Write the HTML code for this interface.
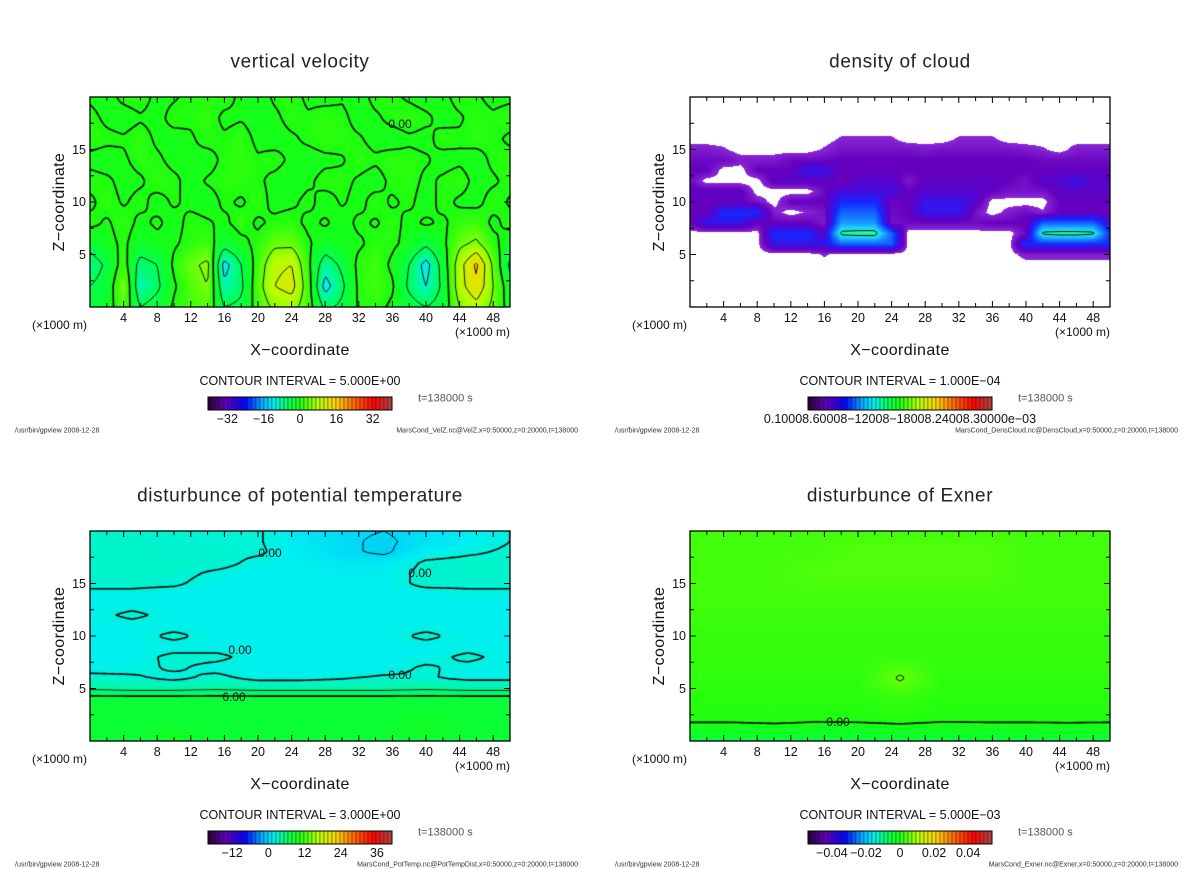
<!DOCTYPE html>
<html><head><meta charset="utf-8">
<style>
body{margin:0;background:#fff;width:1200px;height:868px;position:relative;overflow:hidden;font-family:"Liberation Sans",sans-serif;color:#111}
.t{position:absolute;white-space:nowrap;line-height:1}
.title{font-size:19px;letter-spacing:0.6px;transform:translate(-50%,-50%);color:#222}
.tick{font-size:12.5px;transform:translate(-50%,-50%)}
.ytick{font-size:12.5px;transform:translate(-100%,-50%)}
.xl{font-size:16px;letter-spacing:0.4px;transform:translate(-50%,-50%)}
.zl{font-size:16px;letter-spacing:0.4px;transform:translate(-50%,-50%) rotate(-90deg)}
.unit{font-size:12px;transform:translate(0,-50%)}
.ci{font-size:12.5px;transform:translate(-50%,-50%)}
.tt{font-size:11px;color:#555;transform:translate(0,-50%)}
.foot{font-size:7px;color:#333;transform:translate(0,-50%)}
.footr{font-size:7px;color:#333;transform:translate(-100%,-50%)}
.cl{font-size:12px;transform:translate(-50%,-50%)}
canvas{position:absolute}
</style></head><body>
<svg id="ov" width="1200" height="868" style="position:absolute;left:0;top:0;z-index:2"></svg>
<div id="root"></div>
<script>
// ---------- data ----------
// Panel 1: vertical velocity (x 0..50 step 2, z 0..20 step 2)
const velX=[0,2,4,6,8,10,12,14,16,18,20,22,24,26,28,30,32,34,36,38,40,42,44,46,48,50];
const velZ=[0,2,4,6,8,10,12,14,16,18,20];
const velVals=[
[-3,-2,3,-5,-3,0.6,2,3,-5,-4,2,6,7,2,-6,-4,0.4,1,-0.6,-3,-5,-3,5,8,4,-2],
[-5,-3,5,-9,-6,-0.5,3,5,-9,-6,3,10,12,2,-12,-6,0.8,2,0.5,-6,-10,-4,8,14,5,-3],
[-8,-4,2,-7,-5,0.7,4,6,-12,-5,2,9,10,1,-8,-4,1,2,-0.7,-5,-12,-3,8,16,4,-6],
[-3,-1,0.6,-2,-1,-0.4,1,2,-3,-1,1,4,4,0.5,-2,-1,-0.5,1,0.6,-1,-4,-1,4,6,1,-2],
[0.8,-0.4,1.2,-0.7,0.5,-1.1,0.9,0.3,-0.6,1.3,-0.5,0.7,1.1,-0.8,0.4,-1.2,0.6,-0.3,1.0,-0.9,0.5,-0.6,1.4,2,-0.7,0.9],
[-0.6,1.1,-0.3,0.8,-1.0,0.4,-0.7,-1.2,0.5,-0.4,1.2,-0.9,-0.5,0.7,-1.1,0.3,-0.8,1.0,-0.4,0.6,-1.3,0.9,-0.5,-0.8,1.1,-0.3],
[0.9,0.5,-0.8,-0.4,1.2,0.6,-1.0,0.3,0.8,1.1,0.4,-0.7,-1.2,-0.5,0.9,0.6,-0.3,-1.1,0.7,1.0,-0.6,0.4,1.2,-0.9,-0.4,0.8],
[-0.7,-1.2,-0.4,0.9,0.5,-0.8,-0.3,-1.0,0.6,1.2,0.3,0.8,-0.5,-1.1,-0.6,-0.2,0.9,0.4,1.1,0.7,0.3,-0.9,-0.5,-1.2,0.6,1.0],
[1.0,0.6,0.3,1.2,-0.5,-1.0,-0.3,0.8,0.4,1.1,-0.6,-0.9,-0.4,0.5,1.2,0.7,0.3,-0.8,-1.1,-0.4,-0.7,0.9,0.4,1.0,0.6,-0.5],
[0.7,-0.5,-1.1,-0.3,-0.8,0.9,0.4,1.2,-0.6,-0.2,-1.0,-0.5,0.8,0.3,1.1,0.6,-0.9,-0.4,0.7,1.2,0.5,-0.8,-0.3,0.9,0.4,1.1],
[-0.4,-0.9,0.6,1.1,-0.7,-0.3,0.8,0.5,1.0,-0.6,-1.2,0.4,0.9,-0.5,-0.8,-0.3,-1.0,0.7,0.5,-0.4,-1.1,-0.6,0.8,0.3,-0.7,-0.5]];
const velLevels=[-15,-10,-5,0,5,10,15];
const velTicks=[-32,-16,0,16,32];

// Panel 2: cloud density (units 1e-4), x 0..50 step 2, z 0..20 step 1
const cldX=velX;
const cldZ=[0,1,2,3,4,5,6,7,8,9,10,11,12,13,14,15,16,17,18,19,20];
const Z0=[0,0,0,0,0,0,0,0,0,0,0,0,0,0,0,0,0,0,0,0,0,0,0,0,0,0];
const cldVals=[Z0,Z0,Z0,Z0,Z0,
[0,0,0,0,0,0,0,0,0.2,0,0,0,0,0,0,0,0,0,0,0,0.3,0.3,0.3,0.3,0.3,0.3],
[0,0,0,0,0,1.2,1.2,1.2,1.2,2,2,2,2,0,0,0,0,0,0,0,1.5,1.5,1.5,1.5,1.5,1.5],
[0,0,0,0,0,1.5,1.5,1.5,0.8,3.5,3.6,3.6,2,0,0,0,0,0,0,0,0.5,3.5,3.6,3.6,3.5,1.5],
[0.5,1.2,1.2,1.2,0.6,0.6,0.6,0.6,0.3,2.5,2.5,2.5,0.4,0.5,0.5,0.5,0.5,0.5,0.6,0.6,0.6,2,2,2,2,1],
[0.6,0.6,1.5,1.5,1.5,0.3,0,0.2,0.4,2,2,2,0.5,0.6,1.2,1.2,1.2,0.4,0,0.3,0.5,0.2,0.6,0.6,0.6,0.6],
[0.6,0.6,0.6,0.6,0.4,0,0.6,0.6,0.6,1.5,1.5,1.5,0.5,0.6,1.2,1.2,1.2,0.8,0,0,0,0,0.6,0.6,0.6,0.6],
[0.7,0.7,0.7,0.7,0,0,0,0,0.5,1,1,1,1,0.6,0.8,0.8,0.8,0.8,0.6,0.4,0.4,0.4,0.7,0.7,0.7,0.7],
[0.5,0,0,0,0,0.7,0.7,0.7,0.7,0.5,0.8,0.8,0.8,0.3,0.7,0.7,0.7,0.7,0.7,0.6,0.4,0.8,0.8,1.2,0.8,0.8],
[0.6,0.6,0,0,0.6,0.6,0.6,1.2,1.2,0.6,0.6,0.6,0.6,0.6,0.6,0.6,0.6,0.6,0.6,0.6,0.6,0.6,0.6,0.6,0.6,0.6],
[0.5,0.5,0.5,0.3,0.3,0.3,0.5,0.5,0.5,0.6,0.6,0.6,0.6,0.6,0.6,0.6,0.6,0.6,0.6,0.6,0.6,0.5,0.5,0.5,0.5,0.5],
[0.3,0.3,0.2,0,0,0,0,0,0.2,0.4,0.4,0.4,0.4,0.4,0.3,0.4,0.4,0.4,0.4,0.4,0.3,0.2,0,0.3,0.3,0.3],
[0,0,0,0,0,0,0,0,0,0.2,0.2,0.2,0.2,0,0,0,0.2,0.2,0.2,0,0,0,0,0,0,0],
Z0,Z0,Z0,Z0];
const cldLevels=[3.3];

// Panel 3: potential temperature disturbance, x 0..50 step 5, z 0..20 step 1
const ptX=[0,5,10,15,20,25,30,35,40,45,50];
const ptZ=[0,1,2,3,4,5,6,7,8,9,10,11,12,13,14,15,16,17,18,19,20];
const ptVals=[
[8,8,9,8,8,8,8,8,8,8,8],
[8,8,9,8,8,8,8,8,9,8,8],
[8,8,8,8,8,8,8,8,9,8,8],
[8,8,8,8,8,8,8,8,8,8,8],
[7.5,7.5,7.5,7.5,7.5,7.5,7.5,7.5,7.5,7.5,7.5],
[2.5,2,2,2.5,2,2,2,2,2.5,2,2],
[0.5,0.3,-0.5,0.5,-0.6,-0.6,-0.2,0.3,0.2,-0.5,-0.5],
[-0.6,-0.6,0.3,-0.6,-0.8,-0.8,-0.8,-0.8,0.3,-0.6,-0.8],
[-0.8,-0.8,0.5,0.5,-0.8,-0.8,-0.8,-0.8,-0.8,0.5,-0.8],
[-0.8,-0.8,-0.8,-0.8,-0.8,-0.8,-0.8,-0.8,-0.8,-0.8,-0.8],
[-0.8,-0.8,0.5,-0.8,-0.8,-0.8,-0.8,-0.8,0.5,-0.8,-0.8],
[-0.8,-0.8,-0.8,-0.8,-0.8,-0.8,-0.8,-0.8,-0.8,-0.8,-0.8],
[-0.8,0.5,-0.8,-0.8,-0.8,-0.8,-0.8,-0.8,-0.8,-0.8,-0.8],
[-0.8,-0.8,-0.8,-0.8,-0.8,-0.8,-0.8,-0.8,-0.8,-0.8,-0.8],
[-0.5,-0.5,-0.8,-0.8,-0.8,-0.8,-0.8,-0.8,-0.8,-0.5,-0.5],
[0.5,0.5,0.3,-0.8,-0.8,-0.8,-0.8,-0.8,0.5,0.5,0.5],
[0.6,0.6,0.6,-0.3,-0.8,-0.8,-1,-1,0.6,0.6,0.6],
[0.7,0.7,0.7,0.7,-0.5,-1,-1.5,-1.5,0.3,0.6,0.6],
[0.6,0.6,0.5,0.4,0.3,-1,-2.5,-3.5,-1,-0.3,0.3],
[0.8,0.6,0.4,0.3,0.2,-1.5,-2.5,-3.5,-2,-1,0],
[0.8,0.6,0.4,0.3,0.2,-1.5,-2.5,-3,-2,-1,0]];
const ptLevels=[-3,0,3,6];
const ptTicks=[-12,0,12,24,36];

// Panel 4: Exner disturbance, x 0..50 step 5, z 0..20 step 2
const exX=ptX;
const exZ=[0,2,4,6,8,10,12,14,16,18,20];
const exVals=[
[-0.004,-0.004,-0.004,-0.004,-0.004,-0.004,-0.004,-0.004,-0.004,-0.004,-0.004],
[0.0005,0.0005,0.0008,0.0004,0.0005,0.0009,0.0004,0.0005,0.0005,0.0006,0.0005],
[0.001,0.001,0.001,0.001,0.001,0.002,0.001,0.001,0.001,0.001,0.001],
[0.0015,0.0015,0.0015,0.0015,0.0015,0.0055,0.0015,0.0015,0.0015,0.0015,0.0015],
[0.002,0.002,0.002,0.002,0.002,0.002,0.002,0.002,0.002,0.002,0.002],
[0.002,0.002,0.002,0.002,0.002,0.002,0.002,0.002,0.002,0.002,0.002],
[0.0025,0.0025,0.0025,0.0025,0.0025,0.0025,0.0025,0.0025,0.0025,0.0025,0.0025],
[0.003,0.003,0.003,0.003,0.003,0.003,0.003,0.003,0.003,0.003,0.003],
[0.003,0.003,0.003,0.004,0.004,0.004,0.004,0.004,0.003,0.003,0.003],
[0.003,0.003,0.003,0.003,0.004,0.004,0.004,0.004,0.003,0.003,0.003],
[0.003,0.003,0.003,0.003,0.003,0.003,0.003,0.003,0.003,0.003,0.003]];
const exLevels=[0,0.005];
const exTicks=[-0.04,-0.02,0,0.02,0.04];

const xTicks=[4,8,12,16,20,24,28,32,36,40,44,48];
const zTicks=[5,10,15];

// ---------- rendering ----------
const stops=[[0,[40,0,50]],[0.1,[96,0,192]],[0.2,[0,0,255]],[0.3,[0,180,255]],[0.36,[0,240,240]],[0.43,[0,255,90]],[0.5,[24,255,16]],[0.6,[180,255,0]],[0.7,[255,210,0]],[0.8,[255,96,0]],[0.9,[255,0,0]],[1,[170,70,70]]];
function rainbow(f){f=Math.max(0,Math.min(1,f));for(let i=1;i<stops.length;i++){if(f<=stops[i][0]){const a=stops[i-1],b=stops[i],t=(f-a[0])/(b[0]-a[0]);return a[1].map((c,k)=>Math.round(c+(b[1][k]-c)*t));}}return stops[stops.length-1][1];}
const cStops=[[0.15,[138,40,216]],[0.6,[100,0,190]],[1.0,[70,10,220]],[1.5,[20,40,255]],[2.2,[20,120,255]],[3.0,[30,210,255]],[3.5,[30,255,160]],[4,[60,255,60]]];
function cloudColor(v){if(v<0.15)return [255,255,255];for(let i=1;i<cStops.length;i++){if(v<=cStops[i][0]){const a=cStops[i-1],b=cStops[i],t=(v-a[0])/(b[0]-a[0]);return a[1].map((c,k)=>Math.round(c+(b[1][k]-c)*t));}}return cStops[cStops.length-1][1];}
function idx(arr,v){let i=0;while(i<arr.length-2&&v>arr[i+1])i++;return i;}
function sample(xs,zs,vals,x,z){const i=idx(xs,x),j=idx(zs,z);const tx=Math.max(0,Math.min(1,(x-xs[i])/(xs[i+1]-xs[i]))),tz=Math.max(0,Math.min(1,(z-zs[j])/(zs[j+1]-zs[j])));const a=vals[j][i],b=vals[j][i+1],c=vals[j+1][i],d=vals[j+1][i+1];return (a*(1-tx)+b*tx)*(1-tz)+(c*(1-tx)+d*tx)*tz;}

const W=420,H=210;
const root=document.getElementById('root');
const ov=document.getElementById('ov');
const NS='http://www.w3.org/2000/svg';
function txt(cls,x,y,s,name){const d=document.createElement('div');d.className='t '+cls;d.style.left=x+'px';d.style.top=y+'px';d.textContent=s;


root.appendChild(d);return d;}
function line(x1,y1,x2,y2,w,name){const l=document.createElementNS(NS,'line');l.setAttribute('x1',x1);l.setAttribute('y1',y1);l.setAttribute('x2',x2);l.setAttribute('y2',y2);l.setAttribute('stroke','#000');l.setAttribute('stroke-width',w);


ov.appendChild(l);}

function panel(o){
  const x0=o.x0,y0=o.y0;
  const cv=document.createElement('canvas');cv.width=W;cv.height=H;cv.style.left=x0+'px';cv.style.top=y0+'px';
  
  
  root.appendChild(cv);
  const ctx=cv.getContext('2d');const img=ctx.createImageData(W,H);
  const xs=px=>px/W*50, zs=py=>(H-py)/H*20;
  for(let py=0;py<H;py++)for(let px=0;px<W;px++){const v=sample(o.xs,o.zs,o.vals,xs(px+0.5),zs(py+0.5));const c=o.color(v);const k=(py*W+px)*4;img.data[k]=c[0];img.data[k+1]=c[1];img.data[k+2]=c[2];img.data[k+3]=255;}
  ctx.putImageData(img,0,0);
  const s=2,nx=Math.floor(W/s)+1,nz=Math.floor(H/s)+1;const g=[];
  for(let j=0;j<nz;j++){g.push([]);for(let i=0;i<nx;i++)g[j].push(sample(o.xs,o.zs,o.vals,xs(i*s),zs(j*s)));}
  o.levels.forEach(L=>{
    ctx.beginPath();ctx.strokeStyle='#000';ctx.lineWidth=(L===0||o.thick===L)?1.6:0.9;
    for(let j=0;j<nz-1;j++)for(let i=0;i<nx-1;i++){
      const v=[g[j][i],g[j][i+1],g[j+1][i+1],g[j+1][i]];const p=[[i*s,j*s],[(i+1)*s,j*s],[(i+1)*s,(j+1)*s],[i*s,(j+1)*s]];const pts=[];
      for(let e=0;e<4;e++){const a=v[e],b=v[(e+1)%4];if((a<L)!==(b<L)){const t=(L-a)/(b-a);const A=p[e],B=p[(e+1)%4];pts.push([A[0]+(B[0]-A[0])*t,A[1]+(B[1]-A[1])*t]);}}
      for(let q=0;q+1<pts.length;q+=2){ctx.moveTo(pts[q][0],pts[q][1]);ctx.lineTo(pts[q+1][0],pts[q+1][1]);}
    }
    ctx.stroke();
  });
  const sx=x=>x0+x/50*W, sz=z=>y0+H-z/20*H;
  const r=document.createElementNS(NS,'rect');r.setAttribute('x',x0);r.setAttribute('y',y0);r.setAttribute('width',W);r.setAttribute('height',H);r.setAttribute('fill','none');r.setAttribute('stroke','#000');r.setAttribute('stroke-width',1.3);
  
  
  ov.appendChild(r);
  for(let x=2;x<50;x+=2){const len=x%4===0?6:4;line(sx(x),y0+H,sx(x),y0+H-len,1,'x-tick');line(sx(x),y0,sx(x),y0+len,1,'x-tick-top');}
  for(let z=2.5;z<20;z+=2.5){const len=z%5===0?6:4;line(x0,sz(z),x0+len,sz(z),1,'z-tick');line(x0+W,sz(z),x0+W-len,sz(z),1,'z-tick-right');}
  xTicks.forEach(x=>txt('tick',sx(x),y0+H+11,String(x),'x-tick-label'));
  zTicks.forEach(z=>txt('ytick',x0-4,sz(z),String(z),'z-tick-label'));
  const cx=x0+210;
  txt('title',cx,y0-35,o.title,o.key+'-title');
  txt('unit',x0-58,y0+228,'(\u00d71000 m)','x-unit-left');
  txt('unit',x0+365,y0+235,'(\u00d71000 m)','x-unit-right');
  txt('xl',cx,y0+254,'X\u2212coordinate','x-axis-title');
  txt('zl',x0-30,y0+105,'Z\u2212coordinate','z-axis-title');
  txt('ci',cx,y0+284,'CONTOUR INTERVAL = '+o.ci,o.key+'-contour-interval');
  txt('tt',x0+328,y0+302,'t=138000 s','time-label');
  txt('foot',x0-75,y0+334,'/usr/bin/gpview   2008-12-28','footer-left');
  txt('footr',x0+488,y0+334,o.file,'footer-right');
  const bx=x0+118,by=y0+300,bw=184,bh=13,n=46;
  for(let k=0;k<n;k++){const c=rainbow((k+0.5)/n);const rr=document.createElementNS(NS,'rect');rr.setAttribute('x',bx+k*bw/n);rr.setAttribute('y',by);rr.setAttribute('width',bw/n);rr.setAttribute('height',bh);rr.setAttribute('fill','rgb('+c.join(',')+')');rr.setAttribute('stroke','#222');rr.setAttribute('stroke-width',0.4);
  
  
  ov.appendChild(rr);}
  const fr=document.createElementNS(NS,'rect');fr.setAttribute('x',bx);fr.setAttribute('y',by);fr.setAttribute('width',bw);fr.setAttribute('height',bh);fr.setAttribute('fill','none');fr.setAttribute('stroke','#000');
  
  
  ov.appendChild(fr);
  if(o.cbTicks){o.cbTicks.forEach(v=>txt('tick',bx+(v-o.cbMin)/(o.cbMax-o.cbMin)*bw,by+bh+9,v<0?'\u2212'+String(-v):String(v),'colorbar-label'));}
  else txt('tick',cx,by+bh+9,o.cbText,'colorbar-label');
  (o.labels||[]).forEach(l=>{const d=txt('cl',l[0],l[1],l[2],'contour-label');d.style.zIndex=3;});
}

panel({key:'vertical-velocity',x0:90,y0:97,title:'vertical velocity',xs:velX,zs:velZ,vals:velVals,levels:velLevels,color:v=>rainbow((v+40)/80),ci:'5.000E+00',cbTicks:velTicks,cbMin:-40.5,cbMax:40.5,file:'MarsCond_VelZ.nc@VelZ,x=0:50000,z=0:20000,t=138000',labels:[[400,124,'0.00']]});
panel({key:'density-of-cloud',x0:690,y0:97,title:'density of cloud',xs:cldX,zs:cldZ,vals:cldVals,levels:cldLevels,color:cloudColor,ci:'1.000E\u221204',cbText:'0.10008.60008\u221212008\u221218008.24008.30000e\u221203',file:'MarsCond_DensCloud.nc@DensCloud,x=0:50000,z=0:20000,t=138000'});
panel({key:'potential-temperature',x0:90,y0:531,title:'disturbunce of potential temperature',xs:ptX,zs:ptZ,vals:ptVals,levels:ptLevels,thick:6,color:v=>rainbow(0.37+v*0.012),ci:'3.000E+00',cbTicks:ptTicks,cbMin:-20,cbMax:41,file:'MarsCond_PotTemp.nc@PotTempDist,x=0:50000,z=0:20000,t=138000',labels:[[270,553,'0.00'],[420,573,'0.00'],[240,650,'0.00'],[400,675,'0.00'],[234,697,'6.00']]});
panel({key:'exner',x0:690,y0:531,title:'disturbunce of Exner',xs:exX,zs:exZ,vals:exVals,levels:exLevels,color:v=>rainbow((v+0.054)/0.108),ci:'5.000E\u221203',cbTicks:exTicks,cbMin:-0.054,cbMax:0.054,file:'MarsCond_Exner.nc@Exner,x=0:50000,z=0:20000,t=138000',labels:[[838,722,'0.00']]});
</script>
</body></html>
